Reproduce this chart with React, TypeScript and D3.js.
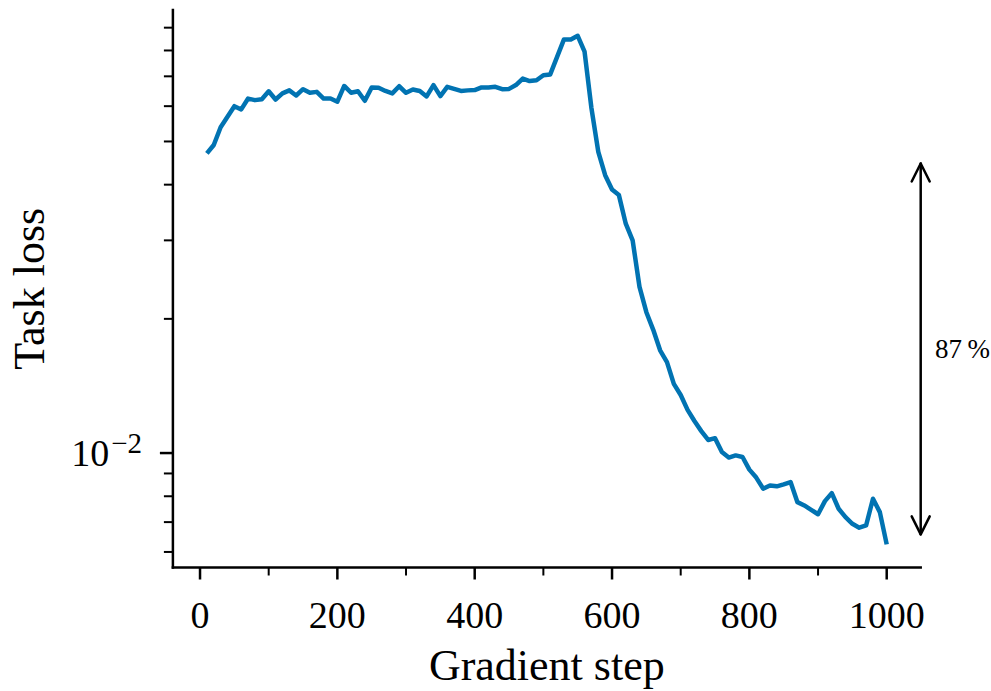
import React from "react";
import * as d3 from "d3";

// Gradient steps and the task loss recorded at each of them
const steps = [
  10, 20, 30, 40, 50, 60, 70, 80, 90, 100,
  110, 120, 130, 140, 150, 160, 170, 180, 190, 200,
  210, 220, 230, 240, 250, 260, 270, 280, 290, 300,
  310, 320, 330, 340, 350, 360, 370, 380, 390, 400,
  410, 420, 430, 440, 450, 460, 470, 480, 490, 500,
  510, 520, 530, 540, 550, 560, 570, 580, 590, 600,
  610, 620, 630, 640, 650, 660, 670, 680, 690, 700,
  710, 720, 730, 740, 750, 760, 770, 780, 790, 800,
  810, 820, 830, 840, 850, 860, 870, 880, 890, 900,
  910, 920, 930, 940, 950, 960, 970, 980, 990, 1000,
];

const taskLoss = [
  0.0470, 0.0491, 0.0538, 0.0568, 0.0600, 0.0590, 0.0624, 0.0619, 0.0622, 0.0648,
  0.0621, 0.0641, 0.0651, 0.0634, 0.0655, 0.0643, 0.0646, 0.0624, 0.0624, 0.0614,
  0.0666, 0.0643, 0.0648, 0.0617, 0.0661, 0.0660, 0.0649, 0.0641, 0.0665, 0.0643,
  0.0654, 0.0649, 0.0631, 0.0669, 0.0632, 0.0663, 0.0656, 0.0649, 0.0651, 0.0652,
  0.0661, 0.0661, 0.0663, 0.0655, 0.0656, 0.0669, 0.0692, 0.0683, 0.0686, 0.0704,
  0.0707, 0.0774, 0.0847, 0.0847, 0.0863, 0.0795, 0.0594, 0.0474, 0.0420, 0.0390,
  0.0379, 0.0327, 0.0300, 0.0236, 0.0207, 0.0189, 0.0170, 0.0160, 0.0143, 0.0135,
  0.0125, 0.0118, 0.0112, 0.0107, 0.0108, 0.01005, 0.00977, 0.00988, 0.00980, 0.00918,
  0.00881, 0.00832, 0.00846, 0.00842, 0.00851, 0.00861, 0.00776, 0.00763, 0.00746, 0.00729,
  0.00780, 0.00813, 0.00750, 0.00718, 0.00694, 0.00680, 0.00688, 0.00790, 0.00737, 0.00624,
];

const xMajorTicks = [0, 200, 400, 600, 800, 1000];
const xMinorTicks = [100, 300, 500, 700, 900];
const yMajorTicks = [0.01];
const yMinorTicks = [0.006, 0.007, 0.008, 0.009, 0.02, 0.03, 0.04, 0.05, 0.06, 0.07, 0.08, 0.09];

const xLabel = "Gradient step";
const yLabel = "Task loss";

const WIDTH = 991;
const HEIGHT = 691;
const FONT = "'Liberation Serif', 'Times New Roman', serif";
const LINE_COLOR = "#0173b2";

export default function App() {
  const x = d3.scaleLinear().domain([-39.5, 1049.5]).range([172.9, 920.7]);
  const y = d3.scaleLog().domain([0.005537, 0.0986]).range([567.5, 10]);

  const left = x.range()[0];
  const right = x.range()[1];
  const bottom = y.range()[0];
  const top = y.range()[1];

  const pts: [number, number][] = steps.map((s, i) => [s, taskLoss[i]]);
  const line = d3
    .line<[number, number]>()
    .x((d) => x(d[0]))
    .y((d) => y(d[1]));

  // Overall reduction from the first to the last recorded loss
  const first = taskLoss[0];
  const last = taskLoss[taskLoss.length - 1];
  const reduction = Math.round((1 - last / first) * 100);

  const arrowX = 920.7;
  const shrink = 10;
  const arrowTop = y(first) + shrink;
  const arrowBottom = y(last) - shrink;
  const headW = 9;
  const headL = 18;

  return (
    <svg
      width={WIDTH}
      height={HEIGHT}
      style={{ position: "absolute", left: 0, top: 0, background: "#fff" }}
      fontFamily={FONT}
    >
      {/* data line */}
      <path
        d={line(pts) || ""}
        fill="none"
        stroke={LINE_COLOR}
        strokeWidth={4.5}
        strokeLinejoin="round"
        strokeLinecap="butt"
      />

      {/* spines */}
      <line x1={left} x2={left} y1={top} y2={bottom} stroke="#000" strokeWidth={2.5} strokeLinecap="square" />
      <line x1={left} x2={right} y1={bottom} y2={bottom} stroke="#000" strokeWidth={2.5} strokeLinecap="square" />

      {/* x ticks */}
      {xMajorTicks.map((t) => (
        <g key={"xM" + t}>
          <line x1={x(t)} x2={x(t)} y1={bottom} y2={bottom + 12} stroke="#000" strokeWidth={2.5} />
          <text x={x(t)} y={628} textAnchor="middle" fontSize={38} fill="#000">
            {t}
          </text>
        </g>
      ))}
      {xMinorTicks.map((t) => (
        <line key={"xm" + t} x1={x(t)} x2={x(t)} y1={bottom} y2={bottom + 8} stroke="#000" strokeWidth={2} />
      ))}

      {/* y ticks */}
      {yMajorTicks.map((t) => (
        <g key={"yM" + t}>
          <line x1={left} x2={left - 13} y1={y(t)} y2={y(t)} stroke="#000" strokeWidth={2.5} />
          <text x={142} y={y(t) + 12.5} textAnchor="end" fontSize={38} fill="#000">
            10
            <tspan fontSize={29} dx={2} dy={-13}>
              {"\u22122"}
            </tspan>
          </text>
        </g>
      ))}
      {yMinorTicks.map((t) => (
        <line key={"ym" + t} x1={left} x2={left - 9} y1={y(t)} y2={y(t)} stroke="#000" strokeWidth={2} />
      ))}

      {/* axis labels */}
      <text x={(left + right) / 2} y={680} textAnchor="middle" fontSize={44} fill="#000">
        {xLabel}
      </text>
      <text
        transform={`translate(44, ${(top + bottom) / 2}) rotate(-90)`}
        textAnchor="middle"
        fontSize={44}
        fill="#000"
      >
        {yLabel}
      </text>

      {/* reduction arrow */}
      <g stroke="#000" strokeWidth={2.5} fill="none" strokeLinecap="round" strokeLinejoin="round">
        <line x1={arrowX} x2={arrowX} y1={arrowTop} y2={arrowBottom} />
        <polyline
          points={`${arrowX - headW},${arrowTop + headL} ${arrowX},${arrowTop} ${arrowX + headW},${arrowTop + headL}`}
        />
        <polyline
          points={`${arrowX - headW},${arrowBottom - headL} ${arrowX},${arrowBottom} ${arrowX + headW},${arrowBottom - headL}`}
        />
      </g>
      <text x={935} y={(arrowTop + arrowBottom) / 2 + 9} fontSize={27} fill="#000">
        {reduction}
        {"\u2009%"}
      </text>
    </svg>
  );
}
